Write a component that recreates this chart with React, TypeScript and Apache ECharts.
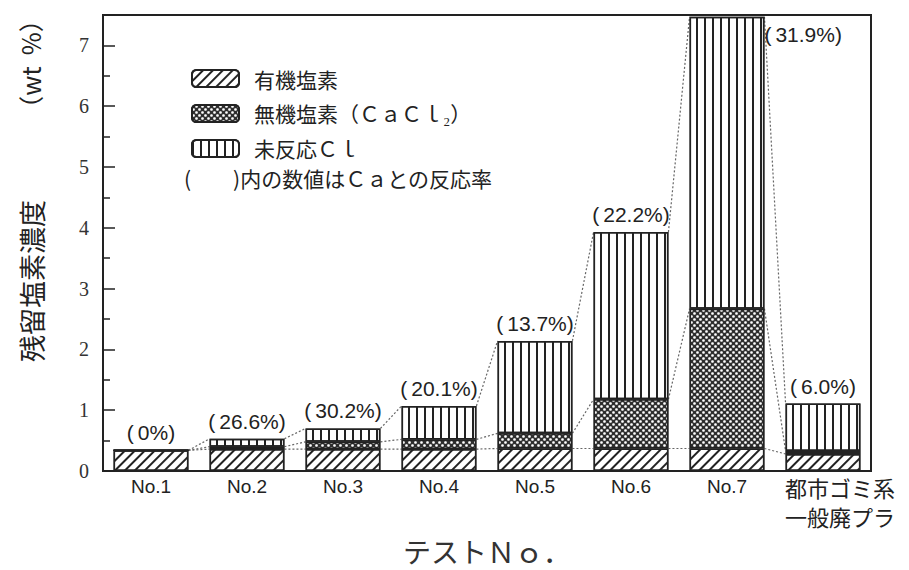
import React, { useEffect, useRef } from 'react';
import * as echarts from 'echarts';

const categories = ['No.1', 'No.2', 'No.3', 'No.4', 'No.5', 'No.6', 'No.7', '都市ゴミ系\n一般廃プラ'];
const organicCl = [0.34, 0.36, 0.36, 0.36, 0.37, 0.37, 0.37, 0.28];
const inorganicCl = [0, 0.04, 0.12, 0.16, 0.25, 0.81, 2.3, 0.05];
const unreactedCl = [0, 0.13, 0.22, 0.55, 1.52, 2.75, 4.8, 0.78];
const reactionRates = ['0%', '26.6%', '30.2%', '20.1%', '13.7%', '22.2%', '31.9%', '6.0%'];
const yTickLabels = ['0', '1', '2', '3', '4', '5', '6', '7'];
const seriesNames = ['有機塩素', '無機塩素（ＣａＣｌ₂）', '未反応Ｃｌ'];

const BAR_RATIO = 0.78;
const INK = '#222';

export default function App() {
  const ref = useRef<HTMLDivElement>(null);

  useEffect(() => {
    document.body.style.margin = '0';
    if (!ref.current) return;
    const chart = echarts.init(ref.current, undefined, { renderer: 'svg' });

    const cum = categories.map((_, i) => [
      organicCl[i],
      organicCl[i] + inorganicCl[i],
      organicCl[i] + inorganicCl[i] + unreactedCl[i],
    ]);
    const connectorData = categories.slice(0, -1).map((_, i) => [i, ...cum[i], ...cum[i + 1]]);

    const lastIdx = categories.length - 1;
    const xData = categories.map((c, i) =>
      i === lastIdx
        ? {
            value: c,
            textStyle: {
              fontFamily: 'Noto Sans CJK JP',
              fontSize: 22,
              lineHeight: 29,
              padding: [0, 0, 0, 34],
            },
          }
        : c
    );

    const unreactedData = unreactedCl.map((v, i) =>
      i === 6
        ? {
            value: v,
            label: { position: ['100%', 18], align: 'left', verticalAlign: 'middle' },
          }
        : v
    );

    const option: any = {
      animation: false,
      backgroundColor: '#fff',
      grid: {
        left: 103,
        top: 15,
        right: 38,
        bottom: 87,
        show: true,
        borderColor: INK,
        borderWidth: 2,
        backgroundColor: 'transparent',
      },
      legend: {
        data: seriesNames,
        orient: 'vertical',
        left: 186,
        top: 63,
        itemWidth: 47,
        itemHeight: 17,
        itemGap: 14,
        selectedMode: false,
        textStyle: {
          fontFamily: 'Noto Sans CJK JP',
          fontSize: 21,
          color: INK,
          padding: [0, 0, 0, 10],
        },
      },
      graphic: [
        {
          type: 'text',
          left: 184,
          top: 167,
          style: {
            text: '(　　)内の数値はＣａとの反応率',
            font: '21px "Noto Sans CJK JP"',
            fill: INK,
          },
        },
        {
          type: 'text',
          x: 31,
          y: 281,
          rotation: Math.PI / 2,
          style: {
            text: '残留塩素濃度',
            font: '27px "Noto Sans CJK JP"',
            fill: INK,
            align: 'center',
            verticalAlign: 'middle',
            textAlign: 'center',
            textVerticalAlign: 'middle',
          },
        },
        {
          type: 'text',
          x: 30,
          y: 64,
          rotation: Math.PI / 2,
          style: {
            text: '（wt  %）',
            font: '25px "Noto Sans CJK JP"',
            fill: INK,
            align: 'center',
            verticalAlign: 'middle',
            textAlign: 'center',
            textVerticalAlign: 'middle',
          },
        },
      ],
      xAxis: {
        type: 'category',
        data: xData,
        axisLine: { lineStyle: { color: INK, width: 2 } },
        axisTick: { show: false },
        axisLabel: {
          interval: 0,
          fontFamily: 'Liberation Sans',
          fontSize: 19,
          color: INK,
          margin: 2,
          lineHeight: 28,
        },
        name: 'テストＮｏ．',
        nameLocation: 'middle',
        nameGap: 66,
        nameTextStyle: { fontFamily: 'Noto Sans CJK JP', fontSize: 28, color: '#333' },
      },
      yAxis: {
        type: 'value',
        min: 0,
        max: 7.5,
        interval: 1,
        axisLine: { show: true, lineStyle: { color: INK, width: 2 } },
        axisTick: { show: true, inside: true, length: 12, lineStyle: { color: INK, width: 1.5 } },
        minorTick: { show: true, splitNumber: 2, length: 7, lineStyle: { color: INK, width: 1.5 } },
        splitLine: { show: false },
        axisLabel: {
          showMaxLabel: false,
          formatter: (v: number) => (Number.isInteger(v) ? yTickLabels[v] ?? '' : ''),
          fontFamily: 'Liberation Serif',
          fontSize: 20,
          color: '#333',
          margin: 14,
        },
      },
      series: [
        {
          name: seriesNames[0],
          type: 'bar',
          stack: 'cl',
          barWidth: BAR_RATIO * 100 + '%',
          data: organicCl,
          itemStyle: {
            color: '#fff',
            borderColor: INK,
            borderWidth: 1.5,
            decal: {
              symbol: 'rect',
              symbolSize: 1,
              color: INK,
              dashArrayX: [1, 0],
              dashArrayY: [1.4, 4.4],
              rotation: -Math.PI / 4,
            },
          },
        },
        {
          name: seriesNames[1],
          type: 'bar',
          stack: 'cl',
          barWidth: BAR_RATIO * 100 + '%',
          data: inorganicCl,
          itemStyle: {
            color: '#2e2e2e',
            borderColor: INK,
            borderWidth: 1.5,
            decal: {
              symbol: 'circle',
              symbolSize: 0.9,
              color: '#fff',
              dashArrayX: [[3, 3], [0, 3, 3, 0]],
              dashArrayY: [3, 0],
              rotation: 0,
            },
          },
        },
        {
          name: seriesNames[2],
          type: 'bar',
          stack: 'cl',
          barWidth: BAR_RATIO * 100 + '%',
          data: unreactedData,
          itemStyle: {
            color: '#fff',
            borderColor: INK,
            borderWidth: 1.5,
            decal: {
              symbol: 'rect',
              symbolSize: 1,
              color: INK,
              dashArrayX: [1.2, 5.8],
              dashArrayY: [1, 0],
              rotation: 0,
            },
          },
          label: {
            show: true,
            position: 'top',
            distance: 7,
            formatter: (p: any) => `{p|(}{v|${reactionRates[p.dataIndex]})}`,
            rich: {
              p: { fontSize: 21, fontFamily: 'Liberation Sans', color: INK, padding: [0, 4, 0, 0] },
              v: { fontSize: 21, fontFamily: 'Liberation Sans', color: INK },
            },
          },
        },
        {
          type: 'custom',
          name: 'connectors',
          silent: true,
          data: connectorData,
          encode: { x: 0, y: [1, 2, 3, 4, 5, 6] },
          renderItem: (params: any, api: any) => {
            const i = api.value(0);
            const half = (api.size([1, 0])[0] * BAR_RATIO) / 2;
            const children: any[] = [];
            for (let k = 0; k < 3; k++) {
              const p1 = api.coord([i, api.value(1 + k)]);
              const p2 = api.coord([i + 1, api.value(4 + k)]);
              children.push({
                type: 'line',
                shape: { x1: p1[0] + half, y1: p1[1], x2: p2[0] - half, y2: p2[1] },
                style: { stroke: '#666', lineWidth: 1.2, lineDash: [2, 2] },
              });
            }
            return { type: 'group', children };
          },
        },
      ],
    };

    chart.setOption(option);
    return () => chart.dispose();
  }, []);

  return <div ref={ref} style={{ width: 909, height: 570 }} />;
}
